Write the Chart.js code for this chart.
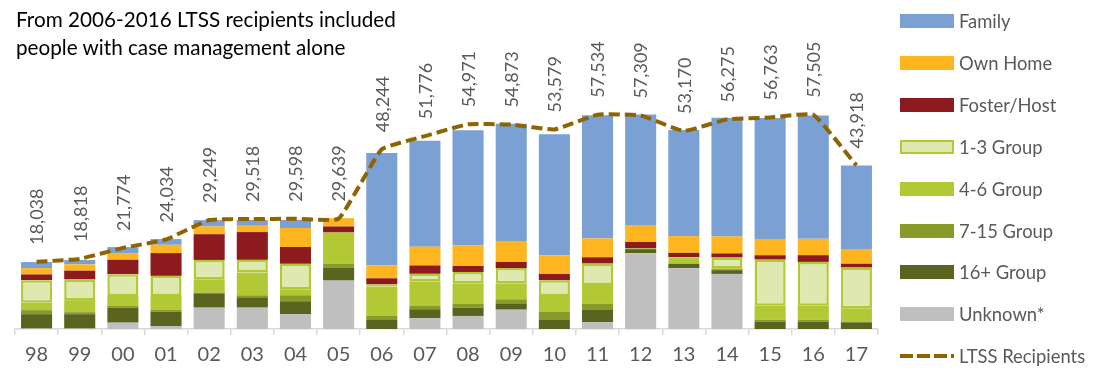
<!DOCTYPE html>
<html>
<head>
<meta charset="utf-8">
<script src="https://cdn.jsdelivr.net/npm/chart.js@4/dist/chart.umd.min.js"></script>
<style>
  html, body { margin: 0; padding: 0; background: #fff; }
  #wrap { position: relative; width: 1112px; height: 380px; overflow: hidden; font-family: Lato, "Open Sans", sans-serif; }
  #c { position: absolute; left: 0; top: 0; }
  #title { position: absolute; left: 16px; top: 5px; font-size: 20.7px; line-height: 28px; color: #000; white-space: nowrap; }
  #legend { position: absolute; left: 900px; top: 0; }
  .li { position: absolute; left: 0; height: 22px; display: flex; align-items: center; white-space: nowrap; font-size: 18.4px; color: #595959; }
  .sw { width: 54px; height: 14px; box-sizing: border-box; margin-right: 5px; flex: none; }
  .dash { width: 54px; height: 4px; margin-right: 5px; flex: none; }
</style>
</head>
<body>
<div id="wrap">
  <canvas id="c" width="1112" height="380"></canvas>
  <div id="title">From 2006-2016 LTSS recipients included<br>people with case management alone</div>
  <div id="legend"></div>
</div>
<script>
const categories = ['98','99','00','01','02','03','04','05','06','07','08','09','10','11','12','13','14','15','16','17'];
const unknown = [130,130,1700,810,5730,5730,4040,12990,0,2880,3500,5190,0,1800,20360,16330,14790,0,0,0];
const group16plus = [3850,3850,4040,3850,3850,2770,3420,3420,2420,2420,2230,1690,2420,3310,1080,1160,1000,1960,1960,1800];
const group7to15 = [1080,540,540,540,190,540,1610,1080,1080,1000,1080,1080,2150,1690,200,130,270,540,540,190];
const group4to6 = [1960,3230,2610,3690,3580,6110,1610,8420,7880,6460,5460,4300,4300,5030,100,400,270,3770,3770,3580];
const group1to3 = [6100,5570,5840,5380,5190,3420,6810,0,620,2070,3040,4120,4220,5730,0,1260,2880,12370,11750,10950];
const fosterHost = [1530,2340,3850,6110,6910,7450,4490,1610,1610,2230,1610,1610,1690,1690,1610,1160,1080,1160,1800,1000];
const ownHome = [1700,1700,1800,2230,2070,1700,5110,2230,3420,5030,5570,5650,4920,5030,4570,4490,4570,4380,4380,3950];
const family = [1610,1160,1610,1530,1700,1530,2150,0,30210,28430,30850,31470,32550,33090,29670,28510,31820,32470,33090,22410];
const ltssRecipients = [18038,18818,21774,24034,29249,29518,29598,29639,48244,51776,54971,54873,53579,57534,57309,53170,56275,56763,57505,43918];

const C = {
  unknown: '#bfbfbf', g16: '#5a641e', g715: '#889a2a', g46: '#b2c935', g13fill: '#dfe8ae', g13border: '#b2c935',
  foster: '#8c1a1f', own: '#feb51f', family: '#7aa0d4', line: '#8f6400'
};

function bar(label, data, color, extra) {
  return Object.assign({ type: 'bar', label, data, backgroundColor: color, borderWidth: 0, stack: 'place', order: 2,
    barPercentage: 0.72, categoryPercentage: 1.0 }, extra || {});
}

const datasets = [
  bar('Unknown*', unknown, C.unknown),
  bar('16+ Group', group16plus, C.g16),
  bar('7-15 Group', group7to15, C.g715),
  bar('4-6 Group', group4to6, C.g46),
  bar('1-3 Group', group1to3, C.g13fill, { borderColor: C.g13border, borderWidth: 2.5, borderSkipped: false }),
  bar('Foster/Host', fosterHost, C.foster),
  bar('Own Home', ownHome, C.own),
  bar('Family', family, C.family),
  { type: 'line', label: 'LTSS Recipients', data: ltssRecipients, stack: 'ltss', order: 0,
    borderColor: C.line, borderWidth: 4, borderDash: [11, 5], borderCapStyle: 'butt',
    pointRadius: 0, pointHoverRadius: 0, fill: false, tension: 0.12 }
];

const fmt = v => v.toLocaleString('en-US');

const valueLabels = {
  id: 'valueLabels',
  afterDatasetsDraw(chart) {
    const idx = chart.data.datasets.findIndex(d => d.type === 'line');
    const meta = chart.getDatasetMeta(idx);
    const ctx = chart.ctx;
    ctx.save();
    ctx.font = '18px Lato, "Open Sans", sans-serif';
    ctx.fillStyle = '#595959';
    ctx.textAlign = 'left';
    ctx.textBaseline = 'middle';
    meta.data.forEach((pt, i) => {
      ctx.save();
      ctx.translate(pt.x + 1, pt.y - 17);
      ctx.rotate(-Math.PI / 2);
      ctx.fillText(fmt(chart.data.datasets[idx].data[i]), 0, 0);
      ctx.restore();
    });
    ctx.restore();
  }
};

const chart = new Chart(document.getElementById('c'), {
  data: { labels: categories, datasets },
  options: {
    responsive: false,
    animation: false,
    devicePixelRatio: 1,
    layout: { padding: { left: 15, right: 234, top: 31, bottom: 0 } },
    plugins: { legend: { display: false }, tooltip: { enabled: false }, title: { display: false } },
    scales: {
      x: {
        stacked: true,
        grid: { drawOnChartArea: false, drawTicks: true, tickLength: 6, color: '#d9d9d9', lineWidth: 1.5, offset: true },
        border: { color: '#d9d9d9', width: 1.5 },
        ticks: { color: '#595959', font: { family: 'Lato', size: 20 }, padding: 8, maxRotation: 0, autoSkip: false },
        afterFit: s => { s.height = 51; }
      },
      y: { stacked: true, display: false, min: 0, max: 80000 }
    }
  },
  plugins: [valueLabels]
});

// HTML legend built from the chart's datasets (top of stack first)
const legendOrder = ['Family','Own Home','Foster/Host','1-3 Group','4-6 Group','7-15 Group','16+ Group','Unknown*','LTSS Recipients'];
const lg = document.getElementById('legend');
legendOrder.forEach((name, i) => {
  const ds = chart.data.datasets.find(d => d.label === name);
  const row = document.createElement('div');
  row.className = 'li';
  row.style.top = (21 + i * 41.9 - 11) + 'px';
  const sw = document.createElement('div');
  if (ds.type === 'line') {
    sw.className = 'dash';
    sw.style.background = 'repeating-linear-gradient(90deg,' + ds.borderColor + ' 0 13px, transparent 13px 17px)';
  } else {
    sw.className = 'sw';
    sw.style.background = ds.backgroundColor;
    if (ds.borderWidth) sw.style.border = '2px solid ' + ds.borderColor;
  }
  const tx = document.createElement('span');
  tx.textContent = name;
  row.appendChild(sw);
  row.appendChild(tx);
  lg.appendChild(row);
});
</script>
</body>
</html>
